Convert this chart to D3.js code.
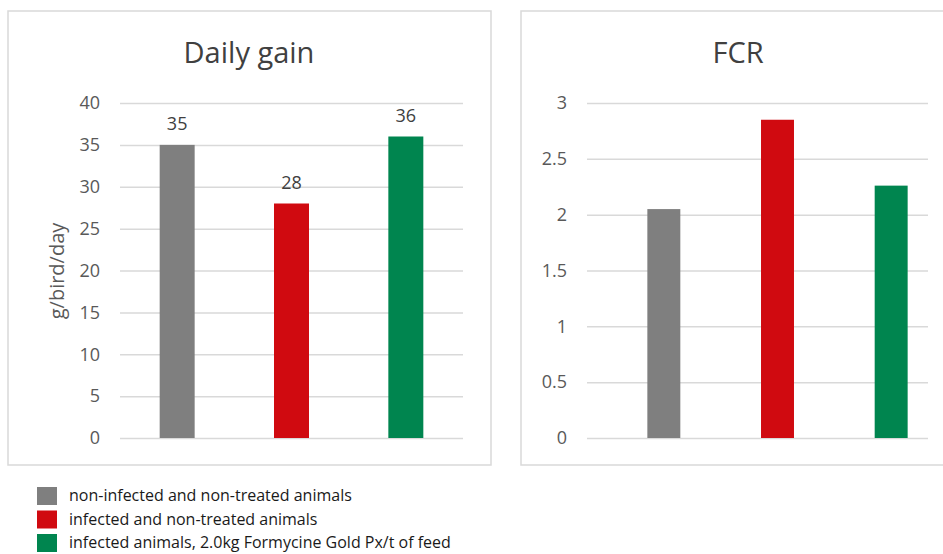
<!DOCTYPE html>
<html>
<head>
<meta charset="utf-8">
<script src="https://cdn.jsdelivr.net/npm/d3@7"></script>
<style>
  body { margin: 0; background: #fff; }
  text { font-family: "Open Sans", sans-serif; }
</style>
</head>
<body>
<svg id="chart" width="943" height="554"></svg>
<script>
// data
var groups = ["non-infected and non-treated animals", "infected and non-treated animals", "infected animals, 2.0kg Formycine Gold Px/t of feed"];
var colors = ["#7f7f7f", "#d00a10", "#00854f"];
var dailyGain = [35, 28, 36];
var fcr = [2.05, 2.85, 2.26];
var gainTicks = [0, 5, 10, 15, 20, 25, 30, 35, 40];
var fcrTicks = [0, 0.5, 1, 1.5, 2, 2.5, 3];

var svg = d3.select("#chart");

// draws one panel: border, title, grid, bars
function panel(opt) {
  var g = svg.append("g");

  g.append("rect")
    .attr("x", opt.box[0]).attr("y", opt.box[1])
    .attr("width", opt.box[2]).attr("height", opt.box[3])
    .attr("fill", "#fff").attr("stroke", "#d9d9d9").attr("stroke-width", 1.5);

  g.append("text")
    .attr("x", opt.titleX).attr("y", 63)
    .attr("text-anchor", "middle")
    .attr("font-size", 29).attr("fill", "#404040")
    .text(opt.title);

  var x = d3.scaleBand().domain(groups).range(opt.barRange)
    .paddingInner(opt.pad).paddingOuter(opt.pad / 2);
  var y = d3.scaleLinear().domain(opt.domain).range([438, 103]);

  // gridlines + tick labels through an axis
  var axis = d3.axisLeft(y).tickValues(opt.ticks)
    .tickSize(-(opt.gridRange[1] - opt.gridRange[0])).tickPadding(20)
    .tickFormat(d3.format(""));
  var ax = g.append("g")
    .attr("transform", "translate(" + opt.gridRange[0] + ",0)")
    .call(axis);
  ax.select(".domain").remove();
  ax.selectAll(".tick line").attr("stroke", "#d9d9d9").attr("stroke-width", 1.5);
  ax.selectAll(".tick text")
    .attr("font-size", 18).attr("fill", "#595959")
    .attr("font-family", "Open Sans, sans-serif");

  g.selectAll(".bar")
    .data(opt.values)
    .enter().append("rect")
    .attr("x", function (d, i) { return x(groups[i]); })
    .attr("y", function (d) { return y(d); })
    .attr("width", x.bandwidth())
    .attr("height", function (d) { return y(0) - y(d); })
    .attr("fill", function (d, i) { return colors[i]; });

  if (opt.labels) {
    g.selectAll(".lbl")
      .data(opt.values)
      .enter().append("text")
      .attr("x", function (d, i) { return x(groups[i]) + x.bandwidth() / 2; })
      .attr("y", function (d) { return y(d) - 15; })
      .attr("text-anchor", "middle")
      .attr("font-size", 18).attr("fill", "#404040")
      .text(function (d) { return d; });
  }
  return g;
}

panel({
  box: [8, 11, 483, 454], title: "Daily gain", titleX: 249,
  gridRange: [120, 463], barRange: [120, 463], pad: 0.694,
  domain: [0, 40], ticks: gainTicks, values: dailyGain, labels: true
});

panel({
  box: [521, 11, 430, 454], title: "FCR", titleX: 738,
  gridRange: [587, 928], barRange: [607, 948], pad: 0.71,
  domain: [0, 3], ticks: fcrTicks, values: fcr, labels: false
});

// y axis title of the left panel
svg.append("text")
  .attr("transform", "translate(64,271) rotate(-90)")
  .attr("text-anchor", "middle")
  .attr("font-size", 20).attr("fill", "#595959")
  .text("g/bird/day");

// legend
var leg = svg.append("g").attr("transform", "translate(37,487)");
var row = leg.selectAll("g").data(groups).enter().append("g")
  .attr("transform", function (d, i) { return "translate(0," + (i * 23.5) + ")"; });
row.append("rect")
  .attr("width", 20).attr("height", 18)
  .attr("fill", function (d, i) { return colors[i]; });
row.append("text")
  .attr("x", 32).attr("y", 14)
  .attr("font-size", 16).attr("fill", "#1a1a1a")
  .text(function (d) { return d; });
</script>
</body>
</html>
